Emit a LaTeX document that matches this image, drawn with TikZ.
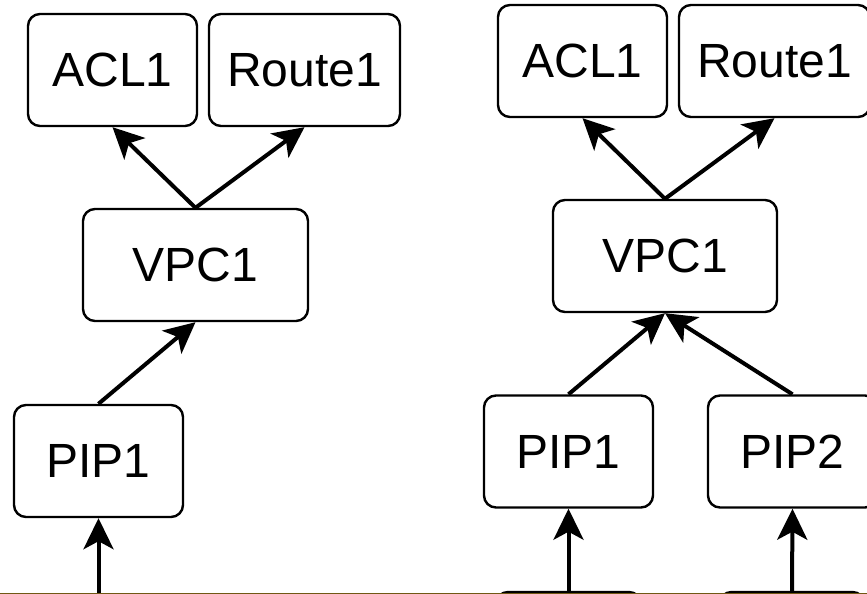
\documentclass[tikz,border=0pt]{standalone}
\usepackage{fontspec}
\setmainfont{Liberation Sans}
\usetikzlibrary{arrows.meta}
\definecolor{edgebrown}{RGB}{112,88,20}
\tikzset{
  obj/.style={draw, line width=2.4pt, rounded corners=12pt, fill=white,
    minimum height=112pt, inner sep=0pt,
    font=\fontsize{48}{54}\selectfont},
  link/.style={line width=4pt, -{Stealth[length=31pt, width=30pt, inset=8pt]}},
}
\begin{document}
\begin{tikzpicture}[x=1pt, y=-1pt]
  \useasboundingbox (0,0) rectangle (867,594);
  \clip (0,0) rectangle (867,594);

  % left graph
  \node[obj, minimum width=169pt] (lacl) at (112.5,70) {ACL1};
  \node[obj, minimum width=191pt] (lroute) at (304.5,70) {Route1};
  \node[obj, minimum width=225pt] (lvpc) at (195.5,265) {VPC1};
  \node[obj, minimum width=169pt] (lpip) at (98.5,461) {PIP1};
  \coordinate (lin) at (98.5,600);

  \draw[link] (lvpc.north) -- (lacl.south);
  \draw[link] (lvpc.north) -- (lroute.south);
  \draw[link] (lpip.north) -- (lvpc.south);
  \draw[link] (lin) -- (lpip.south);

  % right graph
  \node[obj, minimum width=169pt] (racl) at (582.5,61) {ACL1};
  \node[obj, minimum width=191pt] (rroute) at (774.5,61) {Route1};
  \node[obj, minimum width=224pt] (rvpc) at (665,256) {VPC1};
  \node[obj, minimum width=169pt] (rpipa) at (568.5,451.5) {PIP1};
  \node[obj, minimum width=169pt] (rpipb) at (792.5,451.5) {PIP2};
  \node[obj, minimum width=145pt] (rsrca) at (568.5,648) {};
  \node[obj, minimum width=145pt] (rsrcb) at (792,648) {};

  \draw[link] (rvpc.north) -- (racl.south);
  \draw[link] (rvpc.north) -- (rroute.south);
  \draw[link] (rpipa.north) -- (rvpc.south);
  \draw[link] (rpipb.north) -- (rvpc.south);
  \draw[link] (rsrca.north) -- (rpipa.south);
  \draw[link] (rsrcb.north) -- (rpipb.south);

  % bottom rule
  \draw[edgebrown, line width=1.2pt] (0,593.4) -- (867,593.4);
\end{tikzpicture}
\end{document}
